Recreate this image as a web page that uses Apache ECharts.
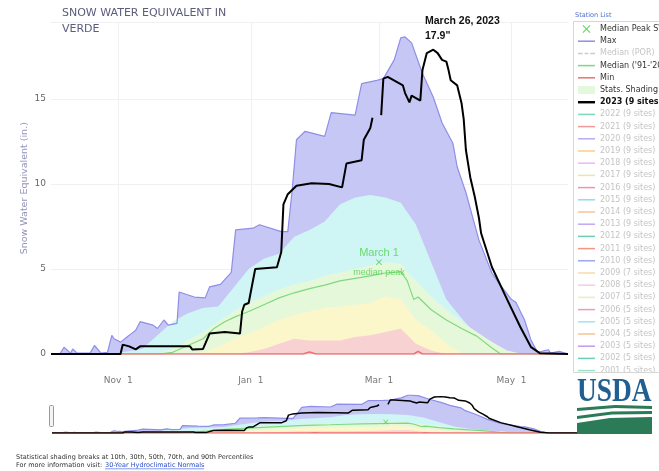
<!DOCTYPE html>
<html>
<head>
<meta charset="utf-8">
<script src="https://cdn.jsdelivr.net/npm/echarts@6/dist/echarts.min.js"></script>
<style>
  html, body { margin: 0; padding: 0; background: #fff; }
  #sweChart { width: 659px; height: 471px; }
</style>
</head>
<body>
<div id="sweChart"></div>
<script>
  // x axis ticks
  var xTickDates = ['2022-11-01', '2023-01-01', '2023-03-01', '2023-05-01'];
  var xTickLabels = ['Nov  1', 'Jan  1', 'Mar  1', 'May  1'];
  var startDate = '2022-10-01';
  var endDate = '2023-05-27';

  // percentile shading (same dates for every band)
  var bandDates = ['2022-10-01','2022-10-15','2022-10-29','2022-11-12','2022-11-19','2022-11-26','2022-12-03','2022-12-10',
    '2022-12-17','2022-12-24','2022-12-31','2023-01-07','2023-01-14','2023-01-21','2023-01-28','2023-02-04',
    '2023-02-11','2023-02-18','2023-02-25','2023-03-04','2023-03-11','2023-03-18','2023-03-25','2023-04-01',
    '2023-04-08','2023-04-15','2023-04-22','2023-04-29','2023-05-06','2023-05-13','2023-05-20','2023-05-27'];
  var p90 = [0,0,0,0.3,1.1,1.9,2.4,2.7,2.8,3.9,5.0,5.6,5.9,6.9,7.3,7.8,8.8,9.2,9.35,9.2,8.9,7.6,5.4,3.2,2.1,1.1,0.7,0.05,0,0,0,0];
  var p70 = [0,0,0,0,0,0.3,0.8,1.3,1.9,2.5,3.0,3.4,3.8,4.1,4.3,4.6,4.8,5.0,5.2,5.4,5.3,4.3,3.4,2.6,1.9,1.3,0.7,0.2,0,0,0,0];
  var p30 = [0,0,0,0,0,0,0,0.1,0.4,0.9,1.2,1.6,2.0,2.3,2.5,2.7,2.8,2.9,3.0,3.4,3.2,2.0,1.4,0.6,0.05,0,0,0,0,0,0,0];
  var p10 = [0,0,0,0,0,0,0,0,0,0,0.1,0.3,0.6,0.9,0.8,0.8,0.8,1.0,1.1,1.3,1.5,0.6,0.2,0,0,0,0,0,0,0,0,0];

  // Max
  var maxDates = ['2022-10-01','2022-10-05','2022-10-07','2022-10-10','2022-10-11','2022-10-13','2022-10-19','2022-10-21',
    '2022-10-24','2022-10-27','2022-10-29','2022-10-30','2022-11-02','2022-11-05','2022-11-07','2022-11-09',
    '2022-11-11','2022-11-17','2022-11-19','2022-11-22','2022-11-24','2022-11-28','2022-11-29','2022-12-06',
    '2022-12-11','2022-12-13','2022-12-18','2022-12-23','2022-12-25','2023-01-02','2023-01-05','2023-01-15',
    '2023-01-18','2023-01-20','2023-01-22','2023-01-26','2023-02-04','2023-02-07','2023-02-18','2023-02-21',
    '2023-02-28','2023-03-03','2023-03-08','2023-03-11','2023-03-13','2023-03-16','2023-03-21','2023-03-26',
    '2023-03-30','2023-04-04','2023-04-06','2023-04-10','2023-04-13','2023-04-16','2023-04-22','2023-04-25',
    '2023-05-01','2023-05-03','2023-05-07','2023-05-10','2023-05-13','2023-05-18','2023-05-19','2023-05-23','2023-05-27'];
  var maxValues = [0,0,0.4,0.05,0.3,0.05,0.05,0.5,
    0.05,0.1,1.1,0.9,0.7,1.0,1.2,1.4,
    1.9,1.7,1.5,2.0,1.7,1.8,3.65,3.35,
    3.3,3.95,4.1,4.8,7.3,7.4,7.6,7.2,
    7.2,9.6,12.6,13.1,12.8,14.2,14.05,15.9,
    16.1,16.2,17.3,18.6,18.65,18.3,16.5,15.1,
    13.6,12.4,11.0,9.5,8.1,6.7,4.75,4.2,
    3.2,3.05,2.0,0.8,0.1,0.25,0.05,0.15,0];

  // Median ('91-'20)
  var medianDates = ['2022-10-01','2022-11-20','2022-11-26','2022-12-03','2022-12-10','2022-12-15','2022-12-20','2022-12-25',
    '2022-12-31','2023-01-07','2023-01-14','2023-01-21','2023-01-28','2023-02-04','2023-02-11','2023-02-18',
    '2023-02-25','2023-03-03','2023-03-11','2023-03-14','2023-03-17','2023-03-19','2023-03-25','2023-04-01',
    '2023-04-08','2023-04-15','2023-04-22','2023-04-26','2023-05-27'];
  var medianValues = [0,0,0.1,0.5,0.9,1.5,1.9,2.2,
    2.5,2.9,3.3,3.6,3.85,4.05,4.3,4.45,
    4.6,4.75,4.85,4.3,3.2,3.35,2.6,2.0,
    1.5,1.05,0.35,0,0];

  // Min
  var minDates = ['2022-10-01','2023-01-25','2023-01-28','2023-01-31','2023-03-17','2023-03-19','2023-03-21','2023-05-27'];
  var minValues = [0,0,0.12,0,0,0.15,0,0];

  // 2023 (9 sites)
  var wy2023Dates = ['2022-10-01','2022-11-02','2022-11-03','2022-11-06','2022-11-09','2022-11-11','2022-12-04','2022-12-05',
    '2022-12-10','2022-12-13','2022-12-20','2022-12-27','2022-12-28','2022-12-29','2022-12-31','2023-01-03',
    '2023-01-13','2023-01-15','2023-01-16','2023-01-18','2023-01-22','2023-01-29','2023-02-06','2023-02-12',
    '2023-02-14','2023-02-21','2023-02-22','2023-02-25','2023-02-26','2023-02-27','2023-03-02','2023-03-03',
    '2023-03-05','2023-03-12','2023-03-13','2023-03-15','2023-03-16','2023-03-20','2023-03-21','2023-03-23',
    '2023-03-26','2023-03-28','2023-03-30','2023-04-01','2023-04-02','2023-04-03','2023-04-06','2023-04-08',
    '2023-04-09','2023-04-10','2023-04-12','2023-04-14','2023-04-16','2023-04-17','2023-04-22','2023-04-29',
    '2023-05-05','2023-05-10','2023-05-14','2023-05-27'];
  var wy2023Values = [0,0,0.55,0.45,0.27,0.45,0.45,0.27,
    0.3,1.2,1.3,1.2,2.5,2.9,3.0,5.0,
    5.1,6.0,8.8,9.4,9.9,10.05,10.0,9.8,
    11.2,11.4,12.6,13.3,13.9,null,14.05,16.2,
    16.3,15.8,15.35,14.8,15.2,14.9,16.7,17.7,
    17.9,17.7,17.3,17.2,16.7,16.1,15.8,14.75,
    13.8,12.0,10.4,9.3,8.0,7.1,5.1,3.2,
    1.6,0.4,0.05,0];

  // median peak marker
  var peakDates = ['2023-03-01'];
  var peakValues = [5.4];

  var yearNames = ['2022 (9 sites)','2021 (9 sites)','2020 (9 sites)','2019 (9 sites)','2018 (9 sites)','2017 (9 sites)',
    '2016 (9 sites)','2015 (9 sites)','2014 (9 sites)','2013 (9 sites)','2012 (9 sites)','2011 (9 sites)',
    '2010 (9 sites)','2009 (7 sites)','2008 (5 sites)','2007 (5 sites)','2006 (5 sites)','2005 (5 sites)',
    '2004 (5 sites)','2003 (5 sites)','2002 (5 sites)','2001 (5 sites)'];
  var yearColors = ['#7ed9b8','#f29a9a','#b3aef0','#f9cf88','#f3b6f3','#e6e6ad','#f394ac','#8fdcea',
    '#f8c49c','#c1a8f3','#6fcdb0','#f39880','#9aa6f2','#f9dcaa','#f3cfe0','#ececc0','#f39ab2','#9de6f2',
    '#f8c28e','#c09af2','#6fcdc0','#9de0c8'];

  // day number counted from Oct 1 (water year start)
  function dayNo (d) {
    return Math.round((Date.UTC(+d.slice(0, 4), +d.slice(5, 7) - 1, +d.slice(8, 10)) -
      Date.UTC(+startDate.slice(0, 4), +startDate.slice(5, 7) - 1, +startDate.slice(8, 10))) / 86400000);
  }
  function pairs (dates, vals) {
    return dates.map(function (d, i) { return [dayNo(d), vals[i] === null ? '-' : vals[i]]; });
  }

  var tickDays = xTickDates.map(dayNo);
  var fontFam = '"DejaVu Sans", Verdana, sans-serif';

  var linePath = 'path://M0,0H18V1.6H0Z';
  var thickPath = 'path://M0,0H18V2.6H0Z';
  var dashPath = 'path://M0,0H5V1.6H0ZM7,0H11V1.6H7ZM13,0H18V1.6H13Z';
  var xPath = 'path://M0,1L1,0L5,4L9,0L10,1L6,5L10,9L9,10L5,6L1,10L0,9L4,5Z';

  function band (name, vals, color, gi) {
    return {
      name: name, type: 'line', xAxisIndex: gi, yAxisIndex: gi,
      data: pairs(bandDates, vals), showSymbol: false, symbol: 'none', silent: true,
      color: color, lineStyle: { width: 0 }, areaStyle: { color: color, opacity: 1 }
    };
  }

  function chartSeries (gi) {
    var nav = gi === 1;
    return [
      {
        name: 'Max', type: 'line', xAxisIndex: gi, yAxisIndex: gi,
        data: pairs(maxDates, maxValues), symbol: 'none', color: '#8e8ee8',
        lineStyle: { width: 1.2, color: '#8e8ee8' }, areaStyle: { color: '#c7c7f6', opacity: 1 }
      },
      band('Stats. Shading', p90, '#cff6f5', gi),
      band('Stats. Shading', p70, '#e6f8da', gi),
      band('Stats. Shading', p30, '#fcf7cb', gi),
      band('Stats. Shading', p10, '#f8d2d2', gi),
      {
        name: "Median ('91-'20)", type: 'line', xAxisIndex: gi, yAxisIndex: gi,
        data: pairs(medianDates, medianValues), symbol: 'none', color: '#7fd87f',
        lineStyle: { width: 1.2 }
      },
      {
        name: 'Min', type: 'line', xAxisIndex: gi, yAxisIndex: gi,
        data: pairs(minDates, minValues), symbol: 'none', color: '#f07070',
        lineStyle: { width: 1.5 }
      },
      {
        name: '2023 (9 sites)', type: 'line', xAxisIndex: gi, yAxisIndex: gi,
        data: pairs(wy2023Dates, wy2023Values), symbol: 'none', color: '#000',
        connectNulls: false, lineStyle: { width: nav ? 1.5 : 2 }, z: 5
      },
      {
        name: 'Median Peak SWE', type: 'scatter', xAxisIndex: gi, yAxisIndex: gi,
        data: pairs(peakDates, peakValues), symbol: xPath, symbolSize: nav ? 5 : 6,
        color: '#44cc44', z: 6,
        label: nav ? { show: false } : {
          show: true, position: 'inside',
          formatter: '{a|March 1}\n{b| }\n{c|median peak}',
          rich: {
            a: { fontSize: 11, color: '#4fd24f', lineHeight: 13, fontFamily: 'Liberation Sans' },
            b: { fontSize: 6, lineHeight: 7 },
            c: { fontSize: 9, color: '#4fd24f', lineHeight: 11, fontFamily: 'Liberation Sans' }
          }
        }
      }
    ];
  }

  var series = chartSeries(0).concat(chartSeries(1));
  series.push({ name: 'Median (POR)', type: 'line', data: [], color: '#cccccc', symbol: 'none' });
  yearNames.forEach(function (n, i) {
    series.push({ name: n, type: 'line', data: [], color: yearColors[i], symbol: 'none' });
  });

  var grayText = { color: '#c4c4c4' };
  var legendData = [
    { name: 'Median Peak SWE', icon: xPath, itemStyle: { color: '#44cc44' } },
    { name: 'Max', icon: linePath },
    { name: 'Median (POR)', icon: dashPath, textStyle: grayText },
    { name: "Median ('91-'20)", icon: linePath },
    { name: 'Min', icon: linePath },
    { name: 'Stats. Shading', icon: 'rect', itemStyle: { color: '#e4f8dc' } },
    { name: '2023 (9 sites)', icon: thickPath, textStyle: { color: '#111', fontWeight: 'bold' } }
  ];
  yearNames.forEach(function (n) {
    legendData.push({ name: n, icon: linePath, textStyle: grayText });
  });

  var sweChart = echarts.init(document.getElementById('sweChart'));
  sweChart.setOption({
    animation: false,
    backgroundColor: '#fff',
    title: {
      text: 'SNOW WATER EQUIVALENT IN\nVERDE',
      left: 62, top: 5, padding: 0,
      textStyle: { fontSize: 11, fontWeight: 'normal', color: '#5c5c7c', lineHeight: 16, fontFamily: fontFam }
    },
    legend: {
      orient: 'vertical', left: 578, top: 24, padding: 0,
      itemWidth: 17, itemHeight: 8, itemGap: 2.2,
      selectedMode: false,
      textStyle: { fontSize: 8, color: '#333', fontFamily: fontFam, lineHeight: 10 },
      data: legendData
    },
    grid: [
      { left: 51, right: 91, top: 22.5, bottom: 117 },
      { left: 52, right: 81, top: 395, height: 38 }
    ],
    xAxis: [
      {
        type: 'value', min: 0, max: dayNo(endDate),
        axisLine: { show: false },
        axisTick: { show: false, customValues: tickDays },
        axisLabel: {
          customValues: tickDays, margin: 22, color: '#777', fontSize: 9, fontFamily: fontFam,
          formatter: function (v) {
            var i = tickDays.indexOf(v);
            return i >= 0 ? xTickLabels[i] : '';
          }
        },
        splitLine: { show: true, lineStyle: { color: '#f0f0f0', width: 1 } }
      },
      {
        type: 'value', gridIndex: 1, min: 0, max: dayNo(endDate), show: false
      }
    ],
    yAxis: [
      {
        type: 'value', min: 0, max: 19.5, interval: 5,
        name: 'Snow Water Equivalent (in.)', nameLocation: 'middle', nameGap: 21, nameMoveOverlap: false,
        nameTextStyle: { color: '#9494bb', fontSize: 9.5, fontFamily: fontFam },
        axisLine: { show: false }, axisTick: { show: false },
        axisLabel: {
          color: '#666', fontSize: 9, margin: 5, fontFamily: fontFam,
          formatter: function (v) { return v % 5 === 0 ? v : ''; }
        },
        splitLine: { lineStyle: { color: '#f0f0f0' } }
      },
      { type: 'value', gridIndex: 1, min: 0, max: 18.7, show: false }
    ],
    series: series,
    graphic: [
      { type: 'rect', z: 100, shape: { x: 573.5, y: 21.5, width: 120, height: 351 },
        style: { fill: 'none', stroke: '#d6d6d6', lineWidth: 1 } },
      { type: 'rect', z: 99, shape: { x: 574, y: 373, width: 90, height: 6 }, style: { fill: '#fff' } },
      { type: 'text', z: 100, x: 575, y: 15,
        style: { text: 'Station List', fill: '#4a6fd0', font: '6.5px "DejaVu Sans"', verticalAlign: 'middle' } },
      { type: 'text', z: 100, x: 425, y: 21,
        style: { text: 'March 26, 2023', fill: '#111', font: 'bold 10.5px "Liberation Sans"', verticalAlign: 'middle' } },
      { type: 'text', z: 100, x: 425, y: 36,
        style: { text: '17.9"', fill: '#111', font: 'bold 10.5px "Liberation Sans"', verticalAlign: 'middle' } },
      // navigator handle
      { type: 'rect', z: 100, shape: { x: 49.5, y: 405.5, width: 4, height: 21, r: 1 },
        style: { fill: '#f4f4f4', stroke: '#999', lineWidth: 1 } },
      // footnote
      { type: 'text', z: 100, x: 16, y: 457,
        style: { text: 'Statistical shading breaks at 10th, 30th, 50th, 70th, and 90th Percentiles',
          fill: '#333', font: '6.5px "DejaVu Sans"', verticalAlign: 'middle' } },
      { type: 'text', z: 100, x: 16, y: 465,
        style: { text: 'For more information visit: ', fill: '#333', font: '6.5px "DejaVu Sans"', verticalAlign: 'middle' } },
      { type: 'text', z: 100, x: 105, y: 465,
        style: { text: '30-Year Hydroclimatic Normals', fill: '#2b4fd0', font: '6.5px "DejaVu Sans"', verticalAlign: 'middle' } },
      { type: 'line', z: 100, shape: { x1: 105, y1: 468.8, x2: 204, y2: 468.8 }, style: { stroke: '#2b4fd0', lineWidth: 0.6 } },
      // USDA logo
      { type: 'text', z: 100, x: 577, y: 392, scaleX: 0.83,
        style: { text: 'USDA', fill: '#1f5f92', font: 'bold 33px "Liberation Serif"', verticalAlign: 'middle' } },
      { type: 'polygon', z: 100, shape: { points: [[577, 408], [615, 405], [652, 406], [652, 409], [615, 408], [577, 411]] },
        style: { fill: '#2b7a58' } },
      { type: 'polygon', z: 100, shape: { points: [[577, 416], [612, 411.5], [652, 411], [652, 414], [612, 414.5], [577, 419]] },
        style: { fill: '#2b7a58' } },
      { type: 'polygon', z: 100, shape: { points: [[577, 434], [577, 423], [610, 418], [652, 417], [652, 434]] },
        style: { fill: '#2b7a58' } }
    ]
  });
</script>
</body>
</html>
